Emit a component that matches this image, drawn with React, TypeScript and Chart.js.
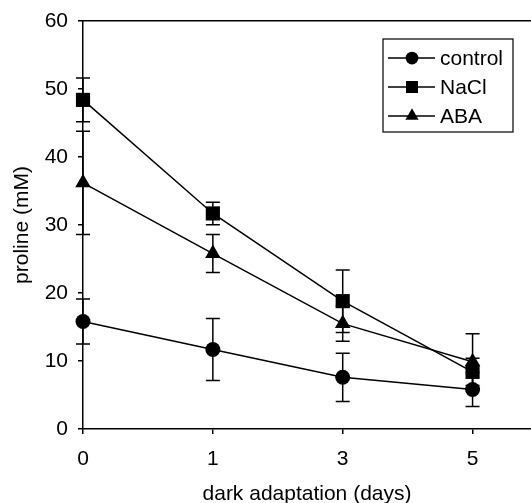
import React, { useEffect, useRef } from "react";
import { Chart, registerables } from "chart.js";

Chart.register(...registerables);

const dayLabels = ["0", "1", "3", "5"];
const dayIndex = [0, 1, 2, 3];
const seriesNames = ["control", "NaCl", "ABA"];
const controlValues = [15.8, 11.7, 7.6, 5.8];
const controlErrors = [3.3, 4.55, 3.55, 2.5];
const naclValues = [48.4, 31.7, 18.8, 8.4];
const naclErrors = [3.2, 1.65, 4.6, 2.0];
const abaValues = [36.2, 25.8, 15.5, 9.9];
const abaErrors = [7.6, 2.8, 2.6, 4.1];
const yTicks = [0, 10, 20, 30, 40, 50, 60];
const pointStyles = ["circle", "rect", "triangle"];
const pointRadii = [7.5, 10, 9];

const FONT = "'Liberation Sans', Arial, Helvetica, sans-serif";
const FS = 21;

function drawMarker(ctx: CanvasRenderingContext2D, style: string, x: number, y: number, r: number) {
  ctx.beginPath();
  if (style === "circle") {
    ctx.arc(x, y, r, 0, Math.PI * 2);
  } else if (style === "rect") {
    const s = Math.SQRT1_2 * r;
    ctx.rect(x - s, y - s, 2 * s, 2 * s);
  } else {
    ctx.moveTo(x, y - r);
    ctx.lineTo(x + r * Math.sin(Math.PI / 3), y + r * 0.5);
    ctx.lineTo(x - r * Math.sin(Math.PI / 3), y + r * 0.5);
    ctx.closePath();
  }
  ctx.fillStyle = "#000";
  ctx.fill();
}

const errorBarPlugin = {
  id: "errorBars",
  afterDatasetsDraw(chart: any) {
    const ctx = chart.ctx;
    const xs = chart.scales.x;
    const ys = chart.scales.y;
    ctx.save();
    ctx.strokeStyle = "#000";
    ctx.lineWidth = 1.5;
    chart.data.datasets.forEach((ds: any) => {
      const errs: number[] = ds.errors || [];
      ds.data.forEach((pt: any, i: number) => {
        const e = errs[i];
        if (e == null) return;
        const x = xs.getPixelForValue(pt.x);
        const yTop = ys.getPixelForValue(pt.y + e);
        const yBot = ys.getPixelForValue(pt.y - e);
        const cap = 7;
        ctx.beginPath();
        ctx.moveTo(x, yTop);
        ctx.lineTo(x, yBot);
        ctx.moveTo(x - cap, yTop);
        ctx.lineTo(x + cap, yTop);
        ctx.moveTo(x - cap, yBot);
        ctx.lineTo(x + cap, yBot);
        ctx.stroke();
      });
    });
    ctx.restore();
  },
};

const boxLegendPlugin = {
  id: "boxLegend",
  afterDraw(chart: any) {
    const ctx = chart.ctx;
    const left = 383;
    const top = 39;
    const w = 130;
    const h = 93;
    ctx.save();
    ctx.fillStyle = "#fff";
    ctx.fillRect(left, top, w, h);
    ctx.strokeStyle = "#000";
    ctx.lineWidth = 1.2;
    ctx.strokeRect(left, top, w, h);
    ctx.font = FS + "px " + FONT;
    ctx.textBaseline = "middle";
    chart.data.datasets.forEach((ds: any, i: number) => {
      const y = top + 19 + i * 29;
      ctx.beginPath();
      ctx.strokeStyle = "#000";
      ctx.lineWidth = 1.5;
      ctx.moveTo(left + 5, y);
      ctx.lineTo(left + 52, y);
      ctx.stroke();
      drawMarker(ctx, ds.pointStyle, left + 29, y, ds.pointRadius * 0.85);
      ctx.fillStyle = "#000";
      ctx.fillText(ds.label, left + 57, y + 1);
    });
    ctx.restore();
  },
};

const zeroPad = (s: any) => {
  s.paddingLeft = 0;
  s.paddingRight = 0;
  s.paddingTop = 0;
  s.paddingBottom = 0;
};

export default function App() {
  const ref = useRef<HTMLCanvasElement | null>(null);
  useEffect(() => {
    document.body.style.margin = "0";
    if (!ref.current) return;
    const mk = (vals: number[]) => dayIndex.map((x, i) => ({ x, y: vals[i] }));
    const allValues = [controlValues, naclValues, abaValues];
    const allErrors = [controlErrors, naclErrors, abaErrors];
    const chart = new Chart(ref.current, {
      type: "line",
      data: {
        datasets: seriesNames.map((name, i) => ({
          label: name,
          data: mk(allValues[i]),
          errors: allErrors[i],
          borderColor: "#000",
          backgroundColor: "#000",
          borderWidth: 1.5,
          pointStyle: pointStyles[i],
          pointRadius: pointRadii[i],
          pointBackgroundColor: "#000",
          pointBorderColor: "#000",
          pointBorderWidth: 0,
          tension: 0,
          clip: false,
        })) as any,
      },
      options: {
        animation: false,
        responsive: false,
        maintainAspectRatio: false,
        layout: { padding: 0, autoPadding: false },
        plugins: {
          legend: { display: false },
          tooltip: { enabled: false },
        },
        scales: {
          x: {
            type: "linear",
            min: 0,
            max: 3.45,
            afterBuildTicks: (s: any) => {
              s.ticks = dayIndex.map((v) => ({ value: v }));
            },
            afterFit: (s: any) => {
              s.height = 74;
              zeroPad(s);
            },
            ticks: {
              callback: (v: any) => dayLabels[v as number] ?? "",
              color: "#000",
              font: { family: FONT, size: FS },
              padding: 13,
              maxRotation: 0,
            },
            grid: {
              drawOnChartArea: false,
              drawTicks: true,
              tickLength: 5,
              color: "#000",
              lineWidth: 1.5,
            },
            border: { display: true, color: "#000", width: 1.5 },
            title: {
              display: true,
              text: "dark adaptation (days)",
              color: "#000",
              font: { family: FONT, size: FS, lineHeight: 1 },
              padding: { top: 0, bottom: -2 },
            },
          },
          x2: {
            type: "linear",
            position: "top",
            min: 0,
            max: 3.45,
            afterFit: (s: any) => {
              s.height = 21;
              zeroPad(s);
            },
            ticks: { display: false },
            grid: { display: false, drawTicks: false },
            border: { display: true, color: "#000", width: 1.5 },
          },
          y: {
            type: "linear",
            min: 0,
            max: 60,
            afterBuildTicks: (s: any) => {
              s.ticks = yTicks.map((v) => ({ value: v }));
            },
            afterFit: (s: any) => {
              s.width = 83;
              zeroPad(s);
            },
            ticks: {
              color: "#000",
              font: { family: FONT, size: FS },
              padding: 10,
            },
            grid: {
              drawOnChartArea: false,
              drawTicks: true,
              tickLength: 5,
              color: "#000",
              lineWidth: 1.5,
            },
            border: { display: true, color: "#000", width: 1.5 },
            title: {
              display: true,
              text: "proline (mM)",
              color: "#000",
              font: { family: FONT, size: FS, lineHeight: 1 },
              padding: { top: 12, bottom: 0 },
            },
          },
        },
      } as any,
      plugins: [errorBarPlugin, boxLegendPlugin],
    });
    return () => chart.destroy();
  }, []);
  return (
    <div style={{ position: "absolute", left: 0, top: 0, width: 531, height: 503, background: "#fff" }}>
      <canvas ref={ref} width={531} height={503} style={{ width: 531, height: 503, display: "block" }} />
    </div>
  );
}
